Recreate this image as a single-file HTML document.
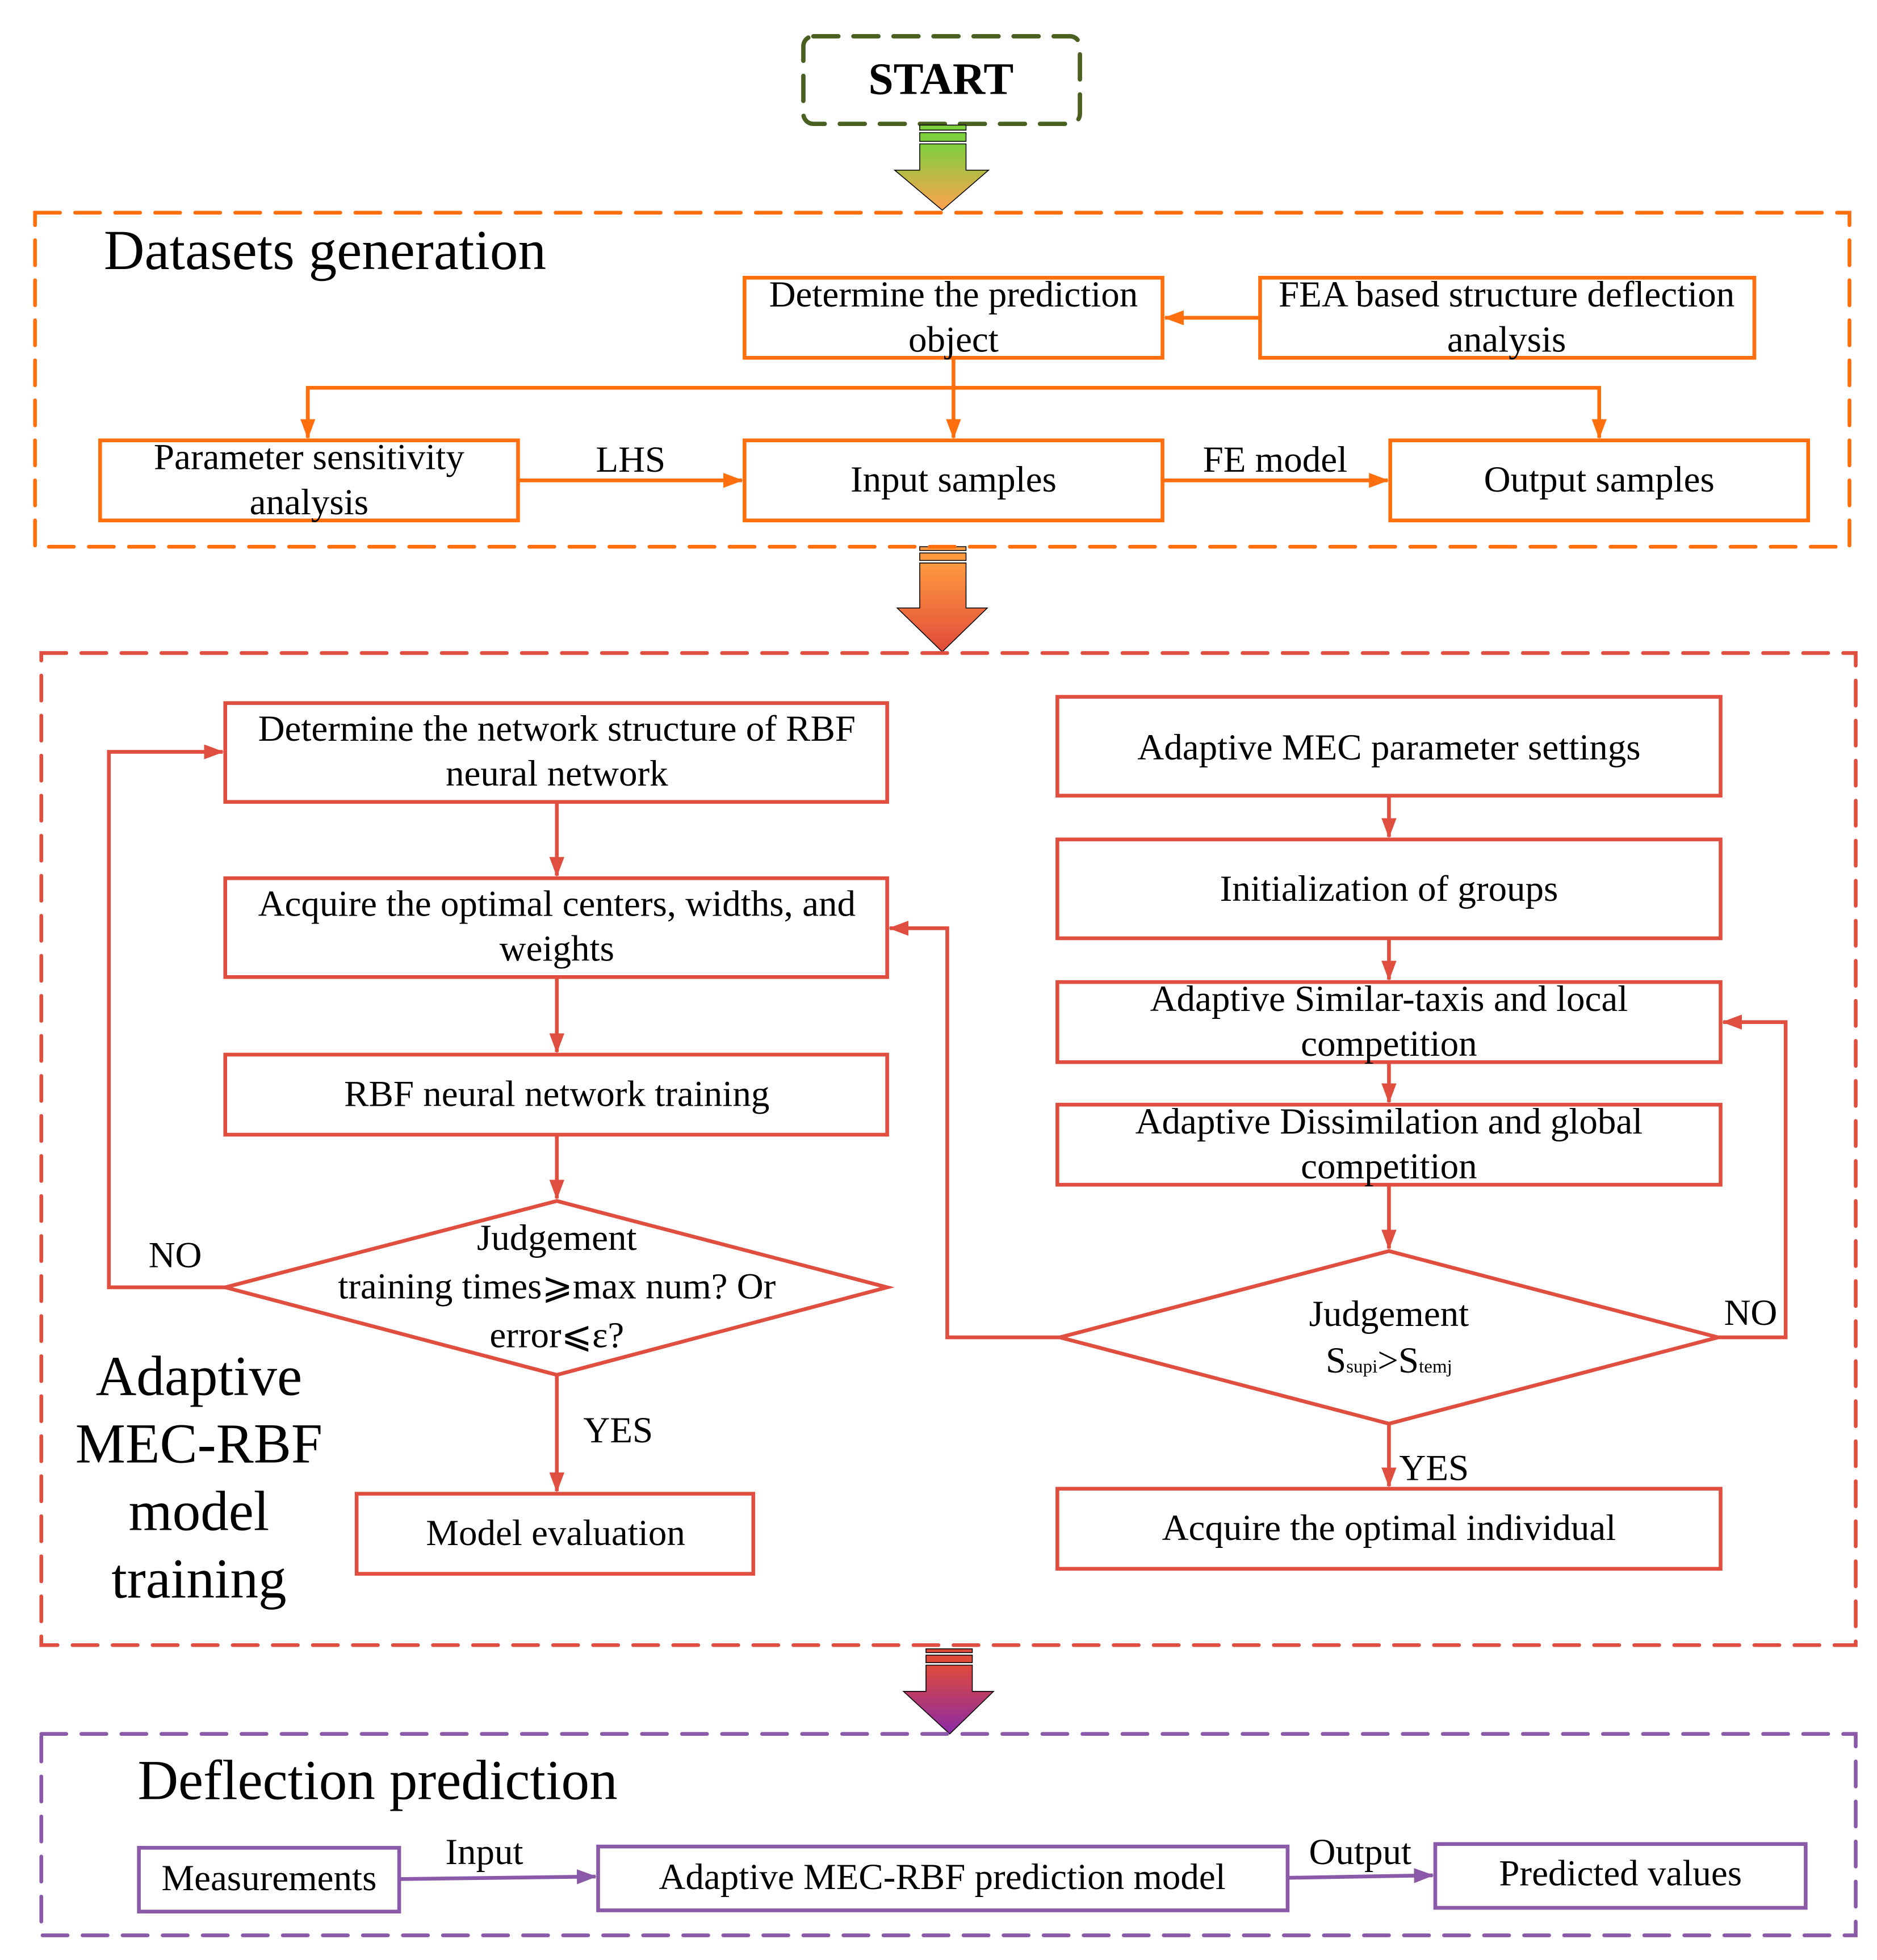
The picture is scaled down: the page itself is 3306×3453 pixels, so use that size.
<!DOCTYPE html>
<html><head><meta charset="utf-8"><style>html,body{margin:0;padding:0;background:#fff}svg{display:block}text{font-family:"Liberation Serif","Times New Roman","DejaVu Serif",serif}</style></head><body>
<svg width="3306" height="3453" viewBox="0 0 1500 1566.7" xmlns="http://www.w3.org/2000/svg">
<defs>
<linearGradient id="g1" x1="0" y1="0" x2="0" y2="1"><stop offset="0" stop-color="#7ed03e"/><stop offset="1" stop-color="#ffa050"/></linearGradient>
<linearGradient id="g2" x1="0" y1="0" x2="0" y2="1"><stop offset="0" stop-color="#ff9a40"/><stop offset="1" stop-color="#e04a3a"/></linearGradient>
<linearGradient id="g3" x1="0" y1="0" x2="0" y2="1"><stop offset="0" stop-color="#e04a3a"/><stop offset="1" stop-color="#8a2aa8"/></linearGradient>
<marker id="ao" markerWidth="16" markerHeight="12" refX="15" refY="6" orient="auto" markerUnits="userSpaceOnUse" viewBox="0 0 16 12"><path d="M0,0 L16,6 L0,12 z" fill="#ff6f0e"/></marker>
<marker id="ar" markerWidth="16" markerHeight="12" refX="15" refY="6" orient="auto" markerUnits="userSpaceOnUse" viewBox="0 0 16 12"><path d="M0,0 L16,6 L0,12 z" fill="#e04e40"/></marker>
<marker id="ap" markerWidth="16" markerHeight="12" refX="15" refY="6" orient="auto" markerUnits="userSpaceOnUse" viewBox="0 0 16 12"><path d="M0,0 L16,6 L0,12 z" fill="#8a5aa8"/></marker>
</defs>
<rect width="1500" height="1567" fill="#fff"/>
<rect x="642" y="29" width="221" height="70" rx="8" fill="none" stroke="#4a6020" stroke-width="3.5" stroke-dasharray="20 12" stroke-linecap="round"/>
<text x="752" y="75" font-size="36" font-weight="bold" text-anchor="middle">START</text>
<g stroke="#000" stroke-width="0.7">
<rect x="735" y="100" width="37" height="4" fill="#7ed03e"/><rect x="735" y="106" width="37" height="7" fill="#7ed03e"/>
<path d="M735,115 H772 V136 H790 L753,168 L715,136 H735 Z" fill="url(#g1)"/>
<rect x="735" y="437" width="37" height="3" fill="#ff9a40"/><rect x="735" y="442" width="37" height="6" fill="#ff9a40"/>
<path d="M735,450 H772 V486 H789 L753,521 L717,486 H735 Z" fill="url(#g2)"/>
<rect x="740" y="1318" width="37" height="3" fill="#e04a3a"/><rect x="740" y="1323" width="37" height="6" fill="#e04a3a"/>
<path d="M740,1331 H777 V1352 H794 L759,1386 L722,1352 H740 Z" fill="url(#g3)"/>
</g>
<rect x="28" y="170" width="1450" height="267" fill="none" stroke="#ff6f0e" stroke-width="3" stroke-dasharray="20 12" stroke-linecap="round"/>
<text x="83" y="215" font-size="45">Datasets generation</text>
<g fill="none" stroke="#ff6f0e" stroke-width="3">
<rect x="595" y="222" width="334" height="64"/>
<rect x="1007" y="222" width="395" height="64"/>
<rect x="80" y="352" width="334" height="64"/>
<rect x="595" y="352" width="334" height="64"/>
<rect x="1111" y="352" width="334" height="64"/>
<line x1="1007" y1="254" x2="931" y2="254" marker-end="url(#ao)"/>
<line x1="762" y1="286" x2="762" y2="350" marker-end="url(#ao)"/>
<polyline points="246,350 246,310 1278,310 1278,350" marker-end="url(#ao)"/>
<line x1="246" y1="312" x2="246" y2="350" marker-end="url(#ao)"/>
<line x1="414" y1="384" x2="593" y2="384" marker-end="url(#ao)"/>
<line x1="929" y1="384" x2="1109" y2="384" marker-end="url(#ao)"/>
</g>
<g font-size="29.5" text-anchor="middle">
<text x="762" y="245">Determine the prediction</text><text x="762" y="281">object</text>
<text x="1204" y="245">FEA based structure deflection</text><text x="1204" y="281">analysis</text>
<text x="247" y="375">Parameter sensitivity</text><text x="247" y="411">analysis</text>
<text x="762" y="393">Input samples</text>
<text x="1278" y="393">Output samples</text>
<text x="504" y="377">LHS</text>
<text x="1019" y="377">FE model</text>
</g>
<rect x="33" y="522" width="1450" height="793" fill="none" stroke="#e04e40" stroke-width="3" stroke-dasharray="20 12" stroke-linecap="round"/>
<g fill="none" stroke="#e04e40" stroke-width="3">
<rect x="180" y="562" width="529" height="79"/>
<rect x="180" y="702" width="529" height="79"/>
<rect x="180" y="843" width="529" height="64"/>
<polygon points="180,1029 445,960 709,1029 445,1099"/>
<rect x="285" y="1194" width="317" height="64"/>
<rect x="845" y="557" width="530" height="79"/>
<rect x="845" y="671" width="530" height="79"/>
<rect x="845" y="785" width="530" height="64"/>
<rect x="845" y="883" width="530" height="64"/>
<polygon points="847,1069 1110,1000 1373,1069 1110,1138"/>
<rect x="845" y="1190" width="530" height="64"/>
<line x1="445" y1="641" x2="445" y2="700" marker-end="url(#ar)"/>
<line x1="445" y1="781" x2="445" y2="841" marker-end="url(#ar)"/>
<line x1="445" y1="907" x2="445" y2="958" marker-end="url(#ar)"/>
<line x1="445" y1="1099" x2="445" y2="1192" marker-end="url(#ar)"/>
<polyline points="180,1029 87,1029 87,601 178,601" marker-end="url(#ar)"/>
<line x1="1110" y1="636" x2="1110" y2="669" marker-end="url(#ar)"/>
<line x1="1110" y1="750" x2="1110" y2="783" marker-end="url(#ar)"/>
<line x1="1110" y1="849" x2="1110" y2="881" marker-end="url(#ar)"/>
<line x1="1110" y1="947" x2="1110" y2="998" marker-end="url(#ar)"/>
<line x1="1110" y1="1138" x2="1110" y2="1188" marker-end="url(#ar)"/>
<polyline points="847,1069 757,1069 757,742 711,742" marker-end="url(#ar)"/>
<polyline points="1373,1069 1427,1069 1427,817 1377,817" marker-end="url(#ar)"/>
</g>
<g font-size="29.5" text-anchor="middle">
<text x="445" y="592">Determine the network structure of RBF</text><text x="445" y="628">neural network</text>
<text x="445" y="732">Acquire the optimal centers, widths, and</text><text x="445" y="768">weights</text>
<text x="445" y="884">RBF neural network training</text>
<text x="445" y="999">Judgement</text>
<text x="445" y="1038">training times⩾max num? Or</text>
<text x="445" y="1077">error⩽ε?</text>
<text x="444" y="1235">Model evaluation</text>
<text x="140" y="1013">NO</text>
<text x="494" y="1153">YES</text>
<text x="1110" y="607">Adaptive MEC parameter settings</text>
<text x="1110" y="720">Initialization of groups</text>
<text x="1110" y="808">Adaptive Similar-taxis and local</text><text x="1110" y="844">competition</text>
<text x="1110" y="906">Adaptive Dissimilation and global</text><text x="1110" y="942">competition</text>
<text x="1110" y="1060">Judgement</text>
<text x="1110" y="1097">S<tspan font-size="15">supi</tspan>&gt;S<tspan font-size="15">temj</tspan></text>
<text x="1110" y="1231">Acquire the optimal individual</text>
<text x="1399" y="1059">NO</text>
<text x="1146" y="1183">YES</text>
</g>
<g font-size="45" text-anchor="middle">
<text x="159" y="1115">Adaptive</text>
<text x="159" y="1169">MEC-RBF</text>
<text x="159" y="1223">model</text>
<text x="159" y="1277">training</text>
</g>
<rect x="33" y="1386" width="1450" height="161" fill="none" stroke="#8a5aa8" stroke-width="3" stroke-dasharray="20 12" stroke-linecap="round"/>
<text x="110" y="1438" font-size="45">Deflection prediction</text>
<g fill="none" stroke="#8a5aa8" stroke-width="3">
<rect x="111" y="1477" width="208" height="51"/>
<rect x="478" y="1476" width="551" height="51"/>
<rect x="1147" y="1474" width="296" height="51"/>
<line x1="319" y1="1502" x2="476" y2="1500" marker-end="url(#ap)"/>
<line x1="1029" y1="1501" x2="1145" y2="1499" marker-end="url(#ap)"/>
</g>
<g font-size="29.5" text-anchor="middle">
<text x="215" y="1511">Measurements</text>
<text x="753" y="1510">Adaptive MEC-RBF prediction model</text>
<text x="1295" y="1507">Predicted values</text>
<text x="387" y="1490">Input</text>
<text x="1087" y="1490">Output</text>
</g>
</svg>
</body></html>
